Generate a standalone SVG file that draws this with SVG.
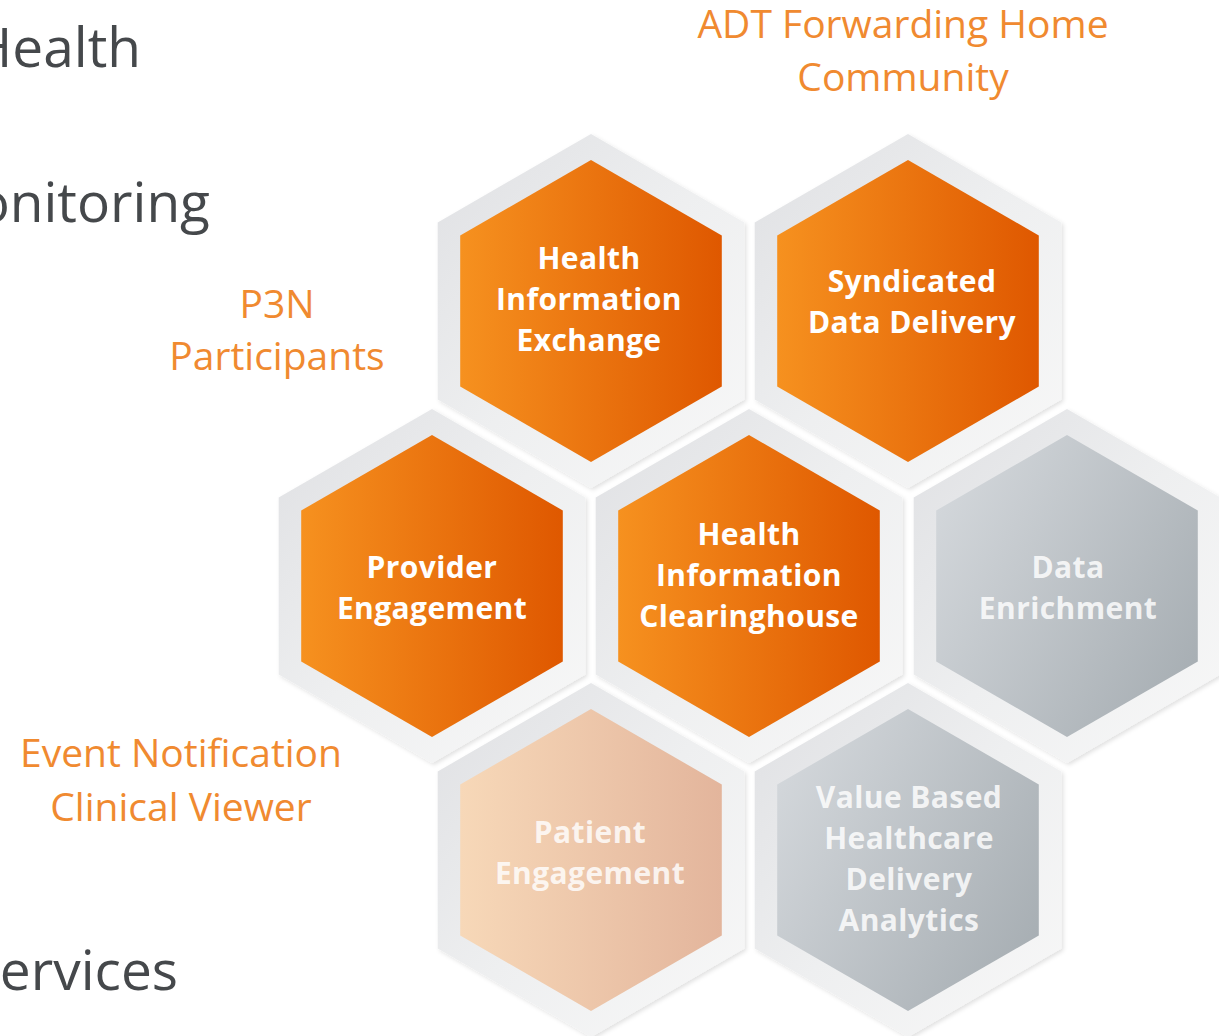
<svg xmlns="http://www.w3.org/2000/svg" xmlns:xlink="http://www.w3.org/1999/xlink" width="1219" height="1036" viewBox="0 0 1219 1036">
  <style>
    .side { font-family: "Open Sans", "Liberation Sans", sans-serif; font-size: 55px; fill: #45484b; }
    .lbl { font-family: "Open Sans", "Liberation Sans", sans-serif; font-size: 39px; fill: #f08a30; text-anchor: middle; }
    .hx { font-family: "Open Sans", "Liberation Sans", sans-serif; font-size: 30px; font-weight: bold; letter-spacing: 0.4px; fill: #ffffff; text-anchor: middle; }
    .hx-faint { fill: #ffffff; fill-opacity: 0.82; }
  </style>
  <defs>
    <linearGradient id="gOuter" x1="0" y1="0" x2="1" y2="1">
      <stop offset="0" stop-color="#dfe0e3"/>
      <stop offset="0.5" stop-color="#eeeff0"/>
      <stop offset="1" stop-color="#f8f8f8"/>
    </linearGradient>
    <linearGradient id="gOrange" x1="0" y1="0" x2="1" y2="0">
      <stop offset="0" stop-color="#f6911f"/>
      <stop offset="1" stop-color="#df5800"/>
    </linearGradient>
    <linearGradient id="gGray" x1="0" y1="0.2" x2="1" y2="0.8">
      <stop offset="0" stop-color="#d3d7db"/>
      <stop offset="1" stop-color="#a7aeb3"/>
    </linearGradient>
    <linearGradient id="gPeach" x1="0" y1="0" x2="1" y2="0">
      <stop offset="0" stop-color="#f7d8b8"/>
      <stop offset="1" stop-color="#e3b59c"/>
    </linearGradient>
    <filter id="sh" x="-10%" y="-10%" width="120%" height="120%">
      <feDropShadow dx="2" dy="2" stdDeviation="2" flood-color="#000000" flood-opacity="0.12"/>
    </filter>
    <polygon id="outer" points="0,-177 153.3,-88.5 153.3,88.5 0,177 -153.3,88.5 -153.3,-88.5"/>
    <polygon id="inner" points="0,-151 130.8,-75.5 130.8,75.5 0,151 -130.8,75.5 -130.8,-75.5"/>
  </defs>

  <rect width="1219" height="1036" fill="#ffffff"/>

  <g id="side-texts">
    <text class="side" x="141" y="67" text-anchor="end">Health</text>
    <text class="side" x="210" y="222" text-anchor="end">onitoring</text>
    <text class="side" x="178" y="990" text-anchor="end">ervices</text>
  </g>

  <g id="labels">
    <text class="lbl" x="903" y="38">ADT Forwarding Home</text>
    <text class="lbl" x="903" y="91">Community</text>
    <text class="lbl" x="277" y="318">P3N</text>
    <text class="lbl" x="277" y="370">Participants</text>
    <text class="lbl" x="181" y="767">Event Notification</text>
    <text class="lbl" x="181" y="821">Clinical Viewer</text>
  </g>

  <g id="hie">
    <use href="#outer" xlink:href="#outer" x="591" y="311" fill="url(#gOuter)" filter="url(#sh)"/>
    <use href="#inner" xlink:href="#inner" x="591" y="311" fill="url(#gOrange)"/>
    <text class="hx" x="589" y="269">Health</text>
    <text class="hx" x="589" y="310">Information</text>
    <text class="hx" x="589" y="351">Exchange</text>
  </g>

  <g id="syndicated">
    <use href="#outer" xlink:href="#outer" x="908" y="311" fill="url(#gOuter)" filter="url(#sh)"/>
    <use href="#inner" xlink:href="#inner" x="908" y="311" fill="url(#gOrange)"/>
    <text class="hx" x="912" y="292">Syndicated</text>
    <text class="hx" x="912" y="333">Data Delivery</text>
  </g>

  <g id="provider">
    <use href="#outer" xlink:href="#outer" x="432" y="586" fill="url(#gOuter)" filter="url(#sh)"/>
    <use href="#inner" xlink:href="#inner" x="432" y="586" fill="url(#gOrange)"/>
    <text class="hx" x="432" y="578">Provider</text>
    <text class="hx" x="432" y="619">Engagement</text>
  </g>

  <g id="clearinghouse">
    <use href="#outer" xlink:href="#outer" x="749" y="586" fill="url(#gOuter)" filter="url(#sh)"/>
    <use href="#inner" xlink:href="#inner" x="749" y="586" fill="url(#gOrange)"/>
    <text class="hx" x="749" y="545">Health</text>
    <text class="hx" x="749" y="586">Information</text>
    <text class="hx" x="749" y="627">Clearinghouse</text>
  </g>

  <g id="enrichment">
    <use href="#outer" xlink:href="#outer" x="1067" y="586" fill="url(#gOuter)" filter="url(#sh)"/>
    <use href="#inner" xlink:href="#inner" x="1067" y="586" fill="url(#gGray)"/>
    <text class="hx hx-faint" x="1068" y="578">Data</text>
    <text class="hx hx-faint" x="1068" y="619">Enrichment</text>
  </g>

  <g id="patient">
    <use href="#outer" xlink:href="#outer" x="591" y="860" fill="url(#gOuter)" filter="url(#sh)"/>
    <use href="#inner" xlink:href="#inner" x="591" y="860" fill="url(#gPeach)"/>
    <text class="hx hx-faint" x="590" y="843">Patient</text>
    <text class="hx hx-faint" x="590" y="884">Engagement</text>
  </g>

  <g id="value-based">
    <use href="#outer" xlink:href="#outer" x="908" y="860" fill="url(#gOuter)" filter="url(#sh)"/>
    <use href="#inner" xlink:href="#inner" x="908" y="860" fill="url(#gGray)"/>
    <text class="hx hx-faint" x="909" y="808">Value Based</text>
    <text class="hx hx-faint" x="909" y="849">Healthcare</text>
    <text class="hx hx-faint" x="909" y="890">Delivery</text>
    <text class="hx hx-faint" x="909" y="931">Analytics</text>
  </g>
</svg>
